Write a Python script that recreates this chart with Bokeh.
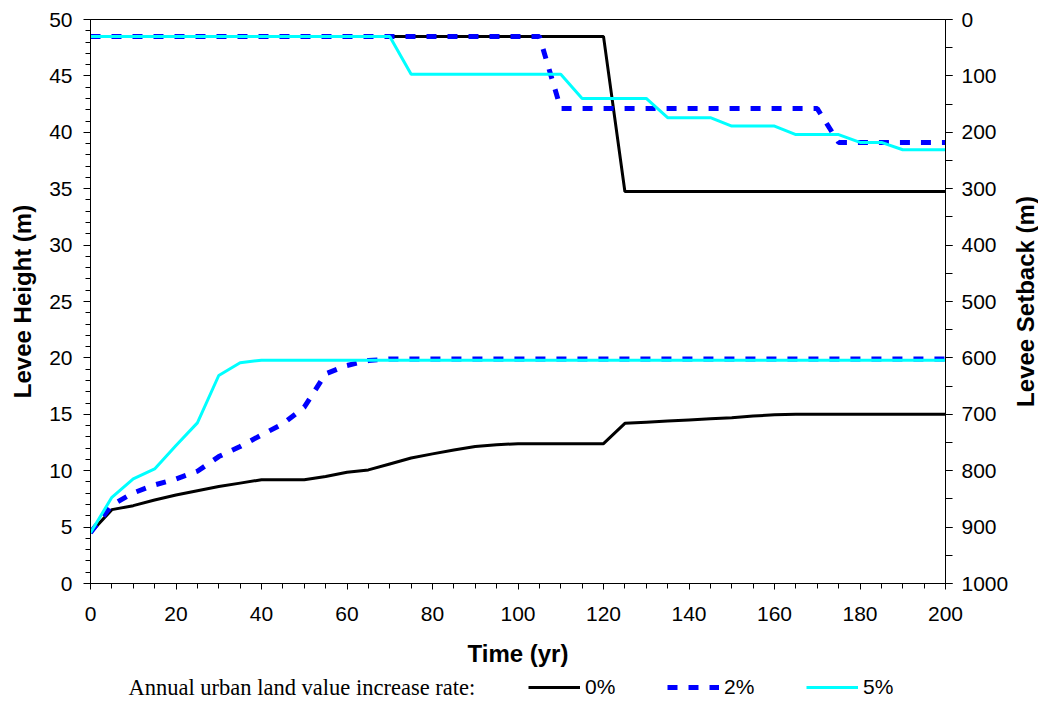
import math
from bokeh.plotting import figure
from bokeh.layouts import column, row
from bokeh.models import (Range1d, LinearAxis, FixedTicker, Legend, LegendItem, Label)
from bokeh.embed import file_html
from bokeh.resources import INLINE

# ---------------- data ----------------
years = [0, 5, 10, 15, 20, 25, 30, 35, 40, 45, 50, 55, 60, 65, 70, 75, 80, 85, 90, 95, 100,
         105, 110, 115, 120, 125, 130, 135, 140, 145, 150, 155, 160, 165, 170, 175, 180,
         185, 190, 195, 200]

# levee height (m), left axis
height_0 = [4.5, 6.55, 6.9, 7.4, 7.85, 8.23, 8.6, 8.9, 9.2, 9.2, 9.2, 9.48, 9.86, 10.07,
            10.6, 11.13, 11.49, 11.84, 12.14, 12.3, 12.4, 12.4, 12.4, 12.4, 12.4, 14.2,
            14.3, 14.4, 14.5, 14.6, 14.7, 14.85, 14.95, 15.0, 15.0, 15.0, 15.0, 15.0, 15.0,
            15.0, 15.0]
height_2 = [4.5, 6.96, 8.03, 8.74, 9.27, 9.95, 11.25, 12.14, 13.17, 14.15, 15.63, 18.59,
            19.33, 19.77, 19.9, 19.9, 19.9, 19.9, 19.9, 19.9, 19.9, 19.9, 19.9, 19.9, 19.9,
            19.9, 19.9, 19.9, 19.9, 19.9, 19.9, 19.9, 19.9, 19.9, 19.9, 19.9, 19.9, 19.9,
            19.9, 19.9, 19.9]
height_5 = [4.5, 7.64, 9.27, 10.16, 12.23, 14.24, 18.44, 19.57, 19.8, 19.8, 19.8, 19.8,
            19.8, 19.8, 19.8, 19.8, 19.8, 19.8, 19.8, 19.8, 19.8, 19.8, 19.8, 19.8, 19.8,
            19.8, 19.8, 19.8, 19.8, 19.8, 19.8, 19.8, 19.8, 19.8, 19.8, 19.8, 19.8, 19.8,
            19.8, 19.8, 19.8]

# levee setback (m), right axis (reversed)
setback_0 = [30, 30, 30, 30, 30, 30, 30, 30, 30, 30, 30, 30, 30, 30, 30, 30, 30, 30, 30, 30,
             30, 30, 30, 30, 30, 305, 305, 305, 305, 305, 305, 305, 305, 305, 305, 305, 305,
             305, 305, 305, 305]
setback_2 = [30, 30, 30, 30, 30, 30, 30, 30, 30, 30, 30, 30, 30, 30, 30, 30, 30, 30, 30, 30,
             30, 30, 158, 158, 158, 158, 158, 158, 158, 158, 158, 158, 158, 158, 158, 218,
             218, 218, 218, 218, 218]
setback_5 = [30, 30, 30, 30, 30, 30, 30, 30, 30, 30, 30, 30, 30, 30, 30, 97, 97, 97, 97, 97,
             97, 97, 97, 140, 140, 140, 140, 174, 174, 174, 189, 189, 189, 204, 204, 204,
             218, 218, 231, 231, 231]

x_ticks = [0, 20, 40, 60, 80, 100, 120, 140, 160, 180, 200]
left_ticks = [0, 5, 10, 15, 20, 25, 30, 35, 40, 45, 50]
right_ticks = [0, 100, 200, 300, 400, 500, 600, 700, 800, 900, 1000]
legend_labels = ["0%", "2%", "5%"]
legend_title = "Annual urban land value increase rate:"
right_title = "Levee Setback (m)"

SANS = "Liberation Sans"
W = 1038            # total width
H = 699             # total height
FL, FR, FT, FB = 90, 948, 19, 583   # plot frame edges (page px)
W1 = 1011           # main figure width (right axis ticks inside)
H1 = 674            # main figure height
W3 = W - W1         # strip holding the right-axis title
H2 = H - H1         # strip holding the legend

BLACK = dict(line_color="black", line_width=3)
BLUE = dict(line_color="#0000ff", line_width=5, line_dash="10 11")
CYAN = dict(line_color="#00ffff", line_width=3)

def blank(fig):
    fig.xgrid.visible = False
    fig.ygrid.visible = False
    fig.outline_line_color = None
    fig.background_fill_color = "white"
    fig.border_fill_color = "white"

# ---------------- main figure ----------------
p1 = figure(width=W1, height=H1, output_backend="svg", toolbar_location=None,
            x_range=Range1d(0, 200), y_range=Range1d(0, 50),
            min_border_left=FL, min_border_right=W1 - FR, min_border_top=FT,
            min_border_bottom=H1 - FB)
p1.extra_y_ranges = {"sb": Range1d(1000, 0)}
p1.xgrid.visible = False
p1.ygrid.visible = False
p1.outline_line_color = "black"
p1.outline_line_width = 1
p1.background_fill_color = "white"
p1.border_fill_color = "white"

def style_axis(ax, major_out=7, minor_out=5):
    ax.axis_line_color = "black"
    ax.major_tick_line_color = "black"
    ax.minor_tick_line_color = "black"
    ax.major_tick_in = 0
    ax.minor_tick_in = 0
    ax.major_tick_out = major_out
    ax.minor_tick_out = minor_out
    ax.major_label_text_font = SANS
    ax.major_label_text_font_size = "21px"
    ax.major_label_text_color = "black"
    ax.axis_label_text_font = SANS
    ax.axis_label_text_font_style = "bold"
    ax.axis_label_text_font_size = "24px"
    ax.axis_label_text_color = "black"

xa = p1.xaxis[0]
xa.ticker = FixedTicker(ticks=x_ticks, minor_ticks=years)
xa.axis_label = "Time (yr)"
style_axis(xa, 6, 5)
xa.major_label_standoff = 17
xa.axis_label_standoff = 16

ya = p1.yaxis[0]
ya.ticker = FixedTicker(ticks=left_ticks, minor_ticks=list(range(0, 51)))
ya.axis_label = "Levee Height (m)"
style_axis(ya, 7, 5)
ya.major_label_standoff = 11
ya.axis_label_standoff = 10

ra = LinearAxis(y_range_name="sb")
ra.ticker = FixedTicker(ticks=right_ticks, minor_ticks=list(range(0, 1001, 50)))
style_axis(ra, 7, 7)
ra.major_label_standoff = 9
p1.add_layout(ra, "right")

p1.line(years, setback_0, y_range_name="sb", **BLACK)
p1.line(years, height_0, **BLACK)
p1.line(years, setback_2, y_range_name="sb", **BLUE)
p1.line(years, height_2, **BLUE)
p1.line(years, setback_5, y_range_name="sb", **CYAN)
p1.line(years, height_5, **CYAN)

# ---------------- right-axis title strip ----------------
p3 = figure(width=W3, height=H1, output_backend="svg", toolbar_location=None,
            x_range=Range1d(0, 1), y_range=Range1d(0, 1),
            x_axis_type=None, y_axis_type=None,
            min_border_left=0, min_border_right=0, min_border_top=FT,
            min_border_bottom=H1 - FB)
blank(p3)
p3.add_layout(Label(x=W3 / 2, y=(FB - FT) / 2, x_units="screen", y_units="screen",
                    text=right_title, angle=math.pi / 2,
                    text_align="center", text_baseline="middle",
                    text_font=SANS, text_font_style="bold", text_font_size="24px",
                    text_color="black"))

# ---------------- legend strip ----------------
p2 = figure(width=W, height=H2, output_backend="svg", toolbar_location=None,
            x_range=Range1d(0, 200), y_range=Range1d(-2, -1),
            x_axis_type=None, y_axis_type=None,
            min_border_left=FL, min_border_right=W - FR, min_border_top=0,
            min_border_bottom=0)
blank(p2)

# same series, drawn outside this strip's visible range: they only supply legend keys
k0 = p2.line(years, height_0, **BLACK)
k2 = p2.line(years, height_2, **BLUE)
k5 = p2.line(years, height_5, **CYAN)

p2.add_layout(Label(x=128 - FL, y=H2 / 2, x_units="screen", y_units="screen",
                    text=legend_title, text_align="left", text_baseline="middle",
                    text_font="Liberation Serif", text_font_size="22.5px",
                    text_color="black"))

items = [LegendItem(label=lab, renderers=[r]) for lab, r in zip(legend_labels, [k0, k2, k5])]
lg = Legend(items=items, location=(528 - FL, 0), orientation="horizontal",
            padding=0, margin=0, spacing=51,
            glyph_width=52, glyph_height=20, label_height=20, label_width=31,
            label_standoff=5, label_text_font=SANS, label_text_font_size="21px",
            label_text_color="black",
            border_line_alpha=0, background_fill_alpha=0)
p2.add_layout(lg, "center")

layout = column(row(p1, p3, spacing=0), p2, spacing=0)
open("out.html", "w").write(file_html(layout, INLINE))
